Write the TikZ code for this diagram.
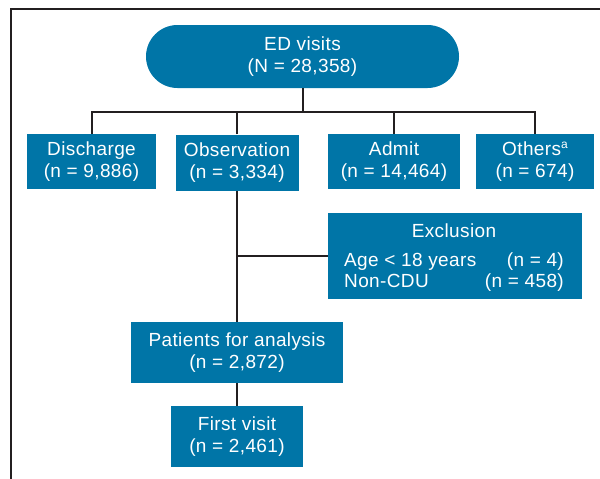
\documentclass[tikz,border=0pt]{standalone}
\usepackage{fontspec}
\setmainfont[LetterSpace=2]{Liberation Sans}
\definecolor{boxblue}{RGB}{0,117,167}
\definecolor{linedark}{RGB}{35,31,32}
\begin{document}
\begin{tikzpicture}[x=1pt,y=1pt,
  box/.style={rectangle, fill=boxblue, text=white, inner sep=0pt, align=center,
    font=\fontsize{19}{22}\selectfont},
  boxtext/.style={text=white, inner sep=0pt, font=\fontsize{19}{22}\selectfont},
  conn/.style={draw=linedark, line width=2pt}]
\useasboundingbox (0,0) rectangle (600,-479);
% frame
\draw[linedark, line width=1.3pt] (11,-479) -- (11,-9) -- (600,-9);
% nodes
\node[box, rounded corners=31.5pt, minimum width=313pt, minimum height=63pt] (ed) at (302.5,-56.5) {ED visits\\(N = 28,358)};
\node[box, minimum width=129pt, minimum height=55pt] (dis) at (91.5,-161.5) {Discharge\\(n = 9,886)};
\node[box, minimum width=123pt, minimum height=56pt] (obs) at (237,-162.5) {Observation\\(n = 3,334)};
\node[box, minimum width=132pt, minimum height=55pt] (adm) at (394,-161.5) {Admit\\(n = 14,464)};
\node[box, minimum width=118pt, minimum height=55pt] (oth) at (535,-161.5) {Others\raisebox{6.5pt}{\fontsize{12}{12}\selectfont a}\\(n = 674)};
\node[box, minimum width=254pt, minimum height=86pt] (exc) at (455,-256) {};
\node[boxtext, anchor=base] (exct) at (454,-237) {Exclusion};
\node[boxtext, anchor=base west] (excl1) at (344,-266) {Age < 18 years};
\node[boxtext, anchor=base east] (excr1) at (564,-266) {(n = 4)};
\node[boxtext, anchor=base west] (excl2) at (344,-287) {Non-CDU};
\node[boxtext, anchor=base east] (excr2) at (564,-287) {(n = 458)};
\node[box, minimum width=212pt, minimum height=61pt] (pat) at (237,-352.5) {Patients for analysis\\(n = 2,872)};
\node[box, minimum width=132pt, minimum height=61pt] (fst) at (237,-436.5) {First visit\\(n = 2,461)};
% connectors
\coordinate (bus) at (0,-112);
\draw[conn] (ed.south) -- (ed.south |- bus);
\draw[conn] (dis.north) -- (dis.north |- bus) -- (oth.north |- bus) -- (oth.north);
\draw[conn] (obs.north) -- (obs.north |- bus);
\draw[conn] (adm.north) -- (adm.north |- bus);
\draw[conn] (obs.south) -- (pat.north);
\draw[conn] (obs.south |- exc.west) -- (exc.west);
\draw[conn] (pat.south) -- (fst.north);
\end{tikzpicture}
\end{document}
